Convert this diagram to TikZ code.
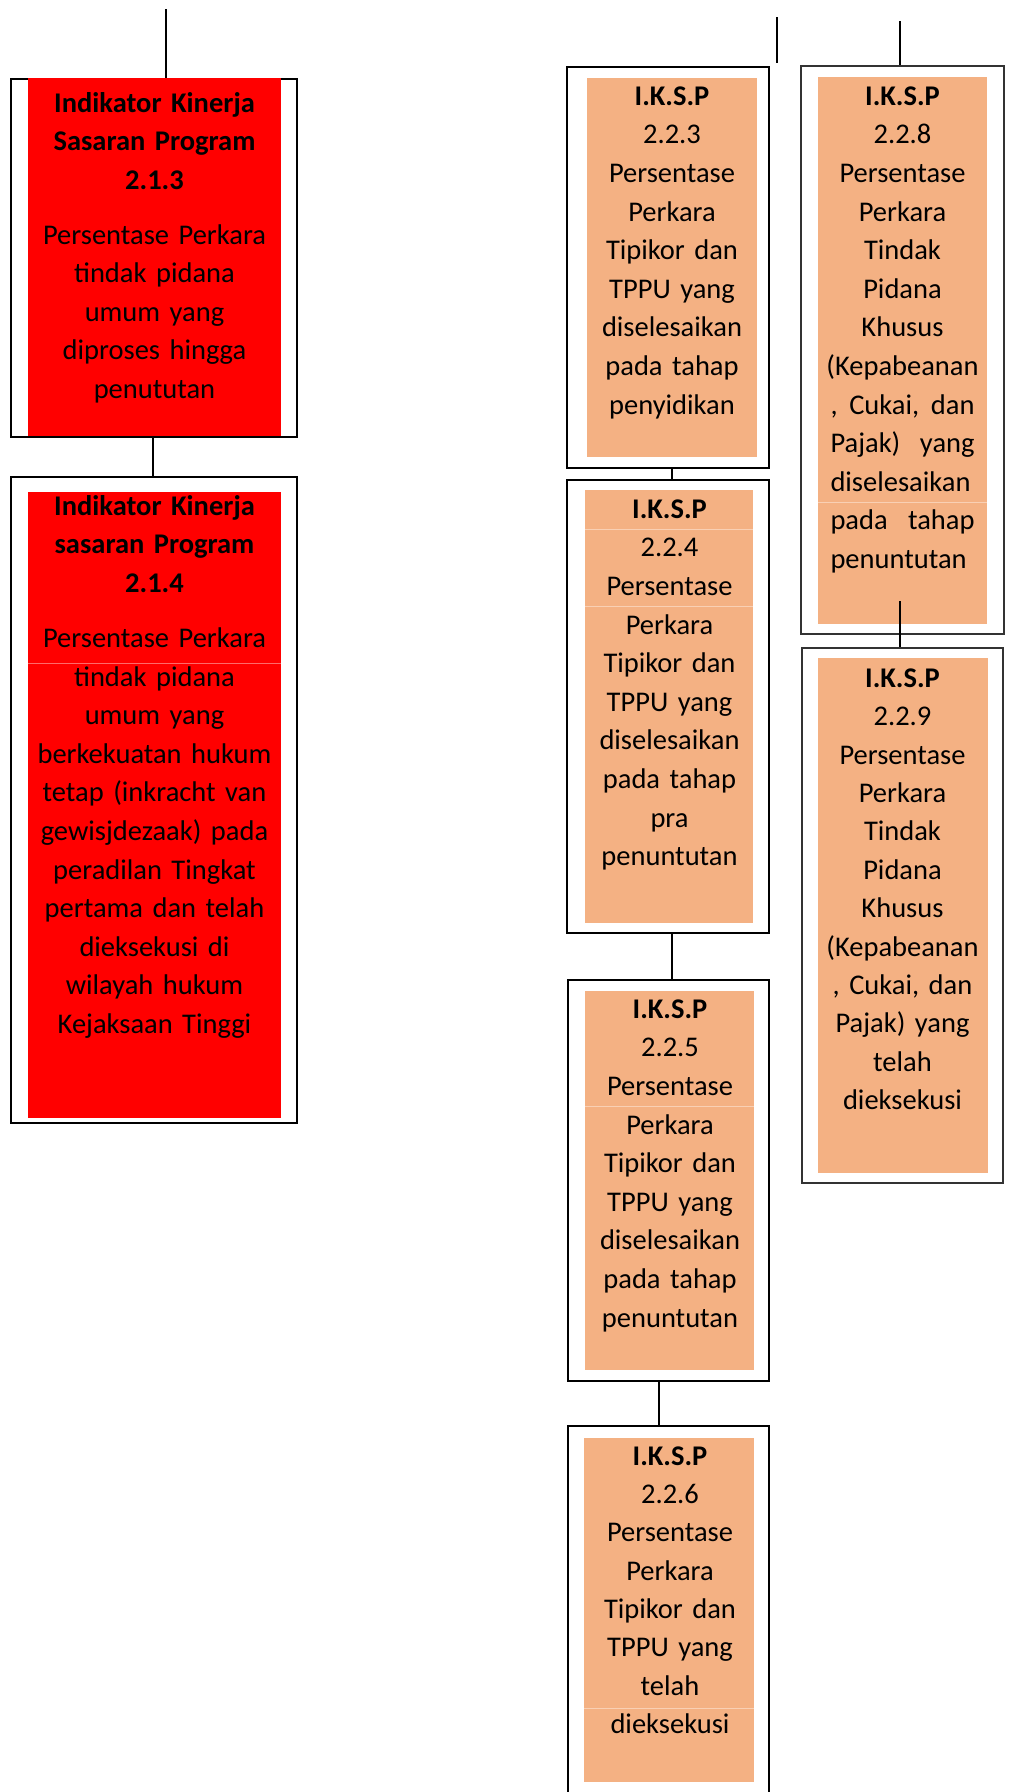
\documentclass[tikz,border=0pt]{standalone}
\usepackage{fontspec}
\setmainfont{Carlito}
\usetikzlibrary{fit}
\definecolor{redfill}{HTML}{FF0000}
\definecolor{salmon}{HTML}{F4B183}
\definecolor{salmonline}{HTML}{F9D0B4}
\definecolor{redline}{HTML}{FF6A6A}
\newcommand{\jline}[1]{\leavevmode\hbox to 144pt{#1}}
\begin{document}
\begin{tikzpicture}[x=1pt,y=-1pt,
  outerbox/.style={draw=black, line width=2.2pt, inner sep=0pt},
  outerboxg/.style={draw=black!80, line width=2.4pt, inner sep=0pt},
  redbox/.style={fill=redfill, draw=none, inner sep=0pt},
  orbox/.style={fill=salmon, draw=none, inner sep=0pt},
  conn/.style={draw=black, line width=2pt},
  redtext/.style={anchor=north, inner sep=0pt, text width=250pt, align=center, font=\fontsize{28.5}{38.5}\selectfont},
  ortext/.style={anchor=north, inner sep=0pt, text width=170pt, align=center, font=\fontsize{28.5}{38.6}\selectfont},
  faintor/.style={draw=salmonline, line width=0.8pt},
  faintred/.style={draw=redline, line width=0.6pt}
]
\useasboundingbox (0,0) rectangle (1010,1792);
\fill[white] (0,0) rectangle (1010,1792);

% outer frames
\node[outerbox, fit={(11,79) (297,437)}] (b213) {};
\node[outerbox, fit={(11,477) (297,1123)}] (b214) {};
\node[outerbox, fit={(567,67) (769,468)}] (b223) {};
\node[outerbox, fit={(567,480) (769,933)}] (b224) {};
\node[outerbox, fit={(568,980) (769,1381)}] (b225) {};
\node[outerbox, fit={(568,1426) (769,1800)}] (b226) {};
\node[outerboxg, fit={(801,66) (1004,634)}] (b228) {};
\node[outerboxg, fit={(802,648) (1003,1183)}] (b229) {};

% fills
\node[redbox, fit={(28,78) (281,436)}] (f213) {};
\node[redbox, fit={(28,492) (281,1118)}] (f214) {};
\node[orbox, fit={(587,78) (757,457)}] (f223) {};
\node[orbox, fit={(585,490) (753,923)}] (f224) {};
\node[orbox, fit={(585,991) (754,1370)}] (f225) {};
\node[orbox, fit={(584,1438) (754,1782)}] (f226) {};
\node[orbox, fit={(818,77) (987,624)}] (f228) {};
\node[orbox, fit={(818,658) (988,1173)}] (f229) {};

% faint cell lines
\draw[faintred] (28,663) -- (281,663);
\draw[faintor] (585,529) -- (753,529);
\draw[faintor] (585,606) -- (753,606);
\draw[faintor] (585,1106) -- (754,1106);
\draw[faintor] (584,1708) -- (754,1708);
\draw[faintor] (818,502) -- (987,502);

% texts
\node[redtext] (t213) at (154.5,90) {\rule{0pt}{22pt}\textbf{Indikator Kinerja}\\ \textbf{Sasaran Program}\\ \textbf{2.1.3}\\[16.5pt] Persentase Perkara\\ tindak pidana\\ umum yang\\ diproses hingga\\ penututan};

\node[redtext, font=\fontsize{28.5}{38.6}\selectfont] (t214) at (154.5,493) {\rule{0pt}{22pt}\textbf{Indikator Kinerja}\\ \textbf{sasaran Program}\\ \textbf{2.1.4}\\[16.5pt] Persentase Perkara\\ tindak pidana\\ umum yang\\ berkekuatan hukum\\ tetap (inkracht van\\ gewisjdezaak) pada\\ peradilan Tingkat\\ pertama dan telah\\ dieksekusi di\\ wilayah hukum\\ Kejaksaan Tinggi};

\node[ortext] (t223) at (672,83) {\rule{0pt}{22pt}\textbf{I.K.S.P}\\ 2.2.3\\ Persentase\\ Perkara\\ Tipikor dan\\ TPPU yang\\ diselesaikan\\ pada tahap\\ penyidikan};

\node[ortext] (t224) at (669.5,496) {\rule{0pt}{22pt}\textbf{I.K.S.P}\\ 2.2.4\\ Persentase\\ Perkara\\ Tipikor dan\\ TPPU yang\\ diselesaikan\\ pada tahap\\ pra\\ penuntutan};

\node[ortext] (t225) at (670,996) {\rule{0pt}{22pt}\textbf{I.K.S.P}\\ 2.2.5\\ Persentase\\ Perkara\\ Tipikor dan\\ TPPU yang\\ diselesaikan\\ pada tahap\\ penuntutan};

\node[ortext, font=\fontsize{28.5}{38.3}\selectfont] (t226) at (670,1443) {\rule{0pt}{22pt}\textbf{I.K.S.P}\\ 2.2.6\\ Persentase\\ Perkara\\ Tipikor dan\\ TPPU yang\\ telah\\ dieksekusi};

\node[ortext] (t228) at (902.5,83) {\rule{0pt}{22pt}\textbf{I.K.S.P}\\ 2.2.8\\ Persentase\\ Perkara\\ Tindak\\ Pidana\\ Khusus\\ (Kepabeanan\\ \jline{,\hfill Cukai,\hfill dan}\\ \jline{Pajak)\hfill yang}\\ \jline{diselesaikan\hfill}\\ \jline{pada\hfill tahap}\\ \jline{penuntutan\hfill}};

\node[ortext, font=\fontsize{28.5}{38.4}\selectfont] (t229) at (902.5,665) {\rule{0pt}{22pt}\textbf{I.K.S.P}\\ 2.2.9\\ Persentase\\ Perkara\\ Tindak\\ Pidana\\ Khusus\\ (Kepabeanan\\ , Cukai, dan\\ Pajak) yang\\ telah\\ dieksekusi};

% connectors
\coordinate (top213) at (166,9);
\draw[conn] (top213) -- (top213 |- f213.north);
\coordinate (x153) at (153,0);
\draw[conn] (b213.south -| x153) -- (b214.north -| x153);
\coordinate (freeA) at (777,17);
\coordinate (freeB) at (777,63);
\draw[conn] (freeA) -- (freeB);
\coordinate (top228) at (900,21);
\draw[conn] (top228) -- (top228 |- b228.north);
\coordinate (x672) at (672,0);
\draw[conn] (b223.south -| x672) -- (b224.north -| x672);
\draw[conn] (b224.south -| x672) -- (b225.north -| x672);
\coordinate (x659) at (659,0);
\draw[conn] (b225.south -| x659) -- (b226.north -| x659);
\coordinate (c228) at (900,601);
\draw[conn] (c228) -- (c228 |- b229.north);
\end{tikzpicture}
\end{document}
